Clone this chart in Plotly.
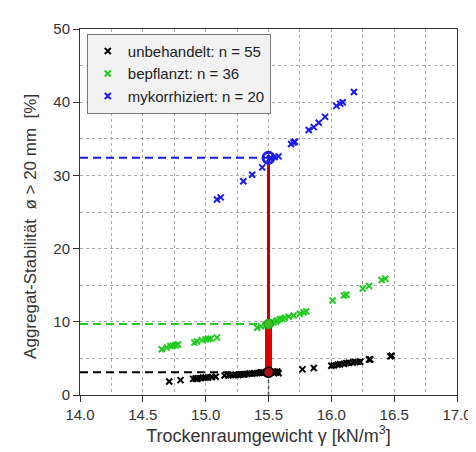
import plotly.graph_objects as go

# --- data ---
ctrl_x = [14.71, 14.80, 14.90, 14.92, 14.93, 14.94, 14.96, 14.98, 15.00, 15.02,
          15.05, 15.08, 15.15, 15.18, 15.20, 15.22, 15.24, 15.26, 15.28, 15.30,
          15.31, 15.33, 15.35, 15.37, 15.39, 15.41, 15.43, 15.44, 15.45, 15.46,
          15.48, 15.49, 15.52, 15.54, 15.55, 15.56, 15.57, 15.58, 15.77, 15.86,
          16.00, 16.02, 16.05, 16.07, 16.10, 16.12, 16.14, 16.17, 16.19, 16.21,
          16.23, 16.30, 16.31, 16.47, 16.48]
ctrl_y = [1.85, 2.03, 2.20, 2.25, 2.20, 2.30, 2.30, 2.35, 2.40, 2.38,
          2.45, 2.50, 2.66, 2.70, 2.74, 2.72, 2.76, 2.74, 2.80, 2.82,
          2.84, 2.86, 2.93, 2.90, 2.97, 3.00, 3.02, 3.07, 3.05, 3.08,
          3.10, 3.05, 3.12, 3.15, 3.18, 3.07, 3.20, 2.97, 3.50, 3.70,
          4.00, 4.05, 4.15, 4.20, 4.25, 4.35, 4.40, 4.45, 4.50, 4.52,
          4.55, 4.85, 4.86, 5.30, 5.36]

plant_x = [14.65, 14.69, 14.72, 14.74, 14.76, 14.78, 14.91, 14.93, 14.97, 15.00,
           15.02, 15.04, 15.09, 15.41, 15.44, 15.48, 15.50, 15.52, 15.54, 15.56,
           15.57, 15.59, 15.61, 15.63, 15.66, 15.70, 15.75, 15.78, 15.80, 16.01,
           16.10, 16.12, 16.25, 16.30, 16.40, 16.43]
plant_y = [6.26, 6.49, 6.70, 6.75, 6.80, 6.90, 7.16, 7.30, 7.50, 7.60,
           7.65, 7.70, 7.84, 9.19, 9.37, 9.60, 9.70, 9.85, 9.95, 10.05,
           10.20, 10.35, 10.40, 10.55, 10.70, 10.85, 11.10, 11.30, 11.40, 12.90,
           13.60, 13.70, 14.55, 14.90, 15.70, 15.90]

myko_x = [15.09, 15.12, 15.30, 15.37, 15.45, 15.51, 15.52, 15.55, 15.58, 15.68,
          15.70, 15.71, 15.82, 15.86, 15.90, 15.95, 16.04, 16.07, 16.09, 16.18]
myko_y = [26.7, 27.0, 29.2, 30.1, 31.1, 32.3, 32.4, 32.5, 32.6, 34.3,
          34.5, 34.6, 36.2, 36.6, 37.2, 38.0, 39.5, 39.8, 40.0, 41.4]

names = ["unbehandelt: n = 55", "bepflanzt: n = 36", "mykorrhiziert: n = 20"]
colors = ["#000000", "#22cc22", "#1a1aee"]

ref_x = 15.5
ref_y = [3.1, 9.7, 32.4]
x_min = 14.0

x_ticks = [14.0, 14.5, 15.0, 15.5, 16.0, 16.5, 17.0]
x_ticklabels = ["14.0", "14.5", "15.0", "15.5", "16.0", "16.5", "17.0"]
y_ticks = [0, 10, 20, 30, 40, 50]

x_title = "Trockenraumgewicht γ [kN/m<sup>3</sup>]"
y_title = "Aggregat-Stabilität  ø > 20 mm  [%]"

FONT = "Liberation Sans, Arial, sans-serif"

fig = go.Figure()

# reference dashed lines
for yv, c in zip(ref_y, colors):
    fig.add_trace(go.Scatter(x=[x_min, ref_x], y=[yv, yv], mode="lines",
                             line=dict(color=c, width=2, dash="8px,5px"),
                             showlegend=False, hoverinfo="skip"))

# dotted vertical below
fig.add_trace(go.Scatter(x=[ref_x, ref_x], y=[0, ref_y[0]], mode="lines",
                         line=dict(color="#555555", width=1.5, dash="dot"),
                         showlegend=False, hoverinfo="skip"))

# red vertical segments
fig.add_trace(go.Scatter(x=[ref_x, ref_x], y=[ref_y[1], ref_y[2]], mode="lines",
                         line=dict(color="#cc0000", width=3),
                         showlegend=False, hoverinfo="skip"))
fig.add_trace(go.Scatter(x=[ref_x, ref_x], y=[ref_y[0], ref_y[1]], mode="lines",
                         line=dict(color="#e00000", width=7),
                         showlegend=False, hoverinfo="skip"))

# data
for xs, ys, nm, c in zip([ctrl_x, plant_x, myko_x], [ctrl_y, plant_y, myko_y], names, colors):
    fig.add_trace(go.Scatter(x=xs, y=ys, mode="markers", name=nm,
                             marker=dict(symbol="x-thin", size=6,
                                         line=dict(color=c, width=2), color=c)))

# circles at intersections
fig.add_trace(go.Scatter(x=[ref_x], y=[ref_y[0]], mode="markers", showlegend=False,
                         marker=dict(symbol="circle", size=10, color="#aa1111",
                                     line=dict(color="#000000", width=1.5))))
fig.add_trace(go.Scatter(x=[ref_x], y=[ref_y[1]], mode="markers", showlegend=False,
                         marker=dict(symbol="circle", size=9, color="#44bb22",
                                     line=dict(color="#22aa22", width=1.5))))
fig.add_trace(go.Scatter(x=[ref_x], y=[ref_y[2]], mode="markers", showlegend=False,
                         marker=dict(symbol="circle-open", size=11,
                                     line=dict(color="#1a1aee", width=3), color="#1a1aee")))

fig.update_layout(
    width=476, height=452,
    margin=dict(l=72, r=19, t=17, b=65),
    paper_bgcolor="white", plot_bgcolor="white",
    font=dict(family=FONT, size=15, color="#333333"),
    legend=dict(x=0.018, y=0.987, xanchor="left", yanchor="top",
                bgcolor="#f2f2f2", bordercolor="#777777", borderwidth=1,
                font=dict(size=15, color="#222222"),
                itemwidth=30, tracegroupgap=0),
    showlegend=True,
    annotations=[dict(text=y_title, xref="paper", yref="paper",
                      x=-0.13, y=0.462, xanchor="center", yanchor="middle",
                      textangle=-90, showarrow=False,
                      font=dict(size=17, color="#333333"))],
)
fig.update_xaxes(range=[14.0, 17.0], tickvals=x_ticks, ticktext=x_ticklabels,
                 ticks="outside", ticklen=6, tickcolor="#333333",
                 showline=True, linecolor="#333333", linewidth=1, mirror=True,
                 showgrid=True, gridcolor="#aaaaaa", griddash="dot", gridwidth=1,
                 minor=dict(dtick=0.25, showgrid=True, gridcolor="#aaaaaa", griddash="dot"),
                 zeroline=False,
                 title=dict(text=x_title, standoff=5, font=dict(size=18)))
fig.update_yaxes(range=[0, 50], tickvals=y_ticks,
                 ticks="outside", ticklen=6, tickcolor="#333333",
                 showline=True, linecolor="#333333", linewidth=1, mirror=True,
                 showgrid=True, gridcolor="#aaaaaa", griddash="dot", gridwidth=1,
                 minor=dict(dtick=5, showgrid=True, gridcolor="#aaaaaa", griddash="dot"),
                 zeroline=False)

fig.write_html("out.html")
